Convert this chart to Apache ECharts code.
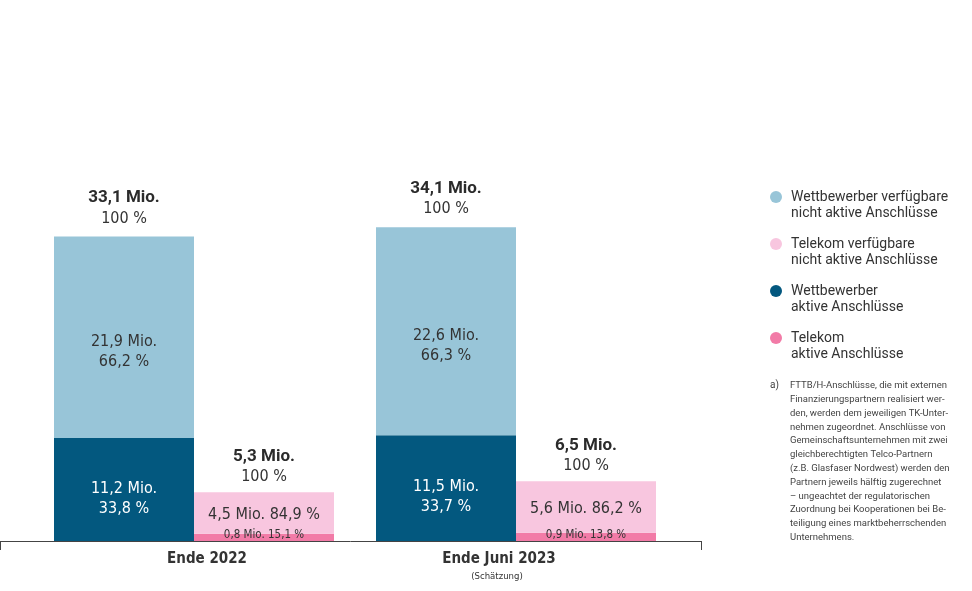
<!DOCTYPE html>
<html>
<head>
<meta charset="utf-8">
<script src="https://cdn.jsdelivr.net/npm/echarts@6/dist/echarts.min.js"></script>
<style>
  html, body { margin: 0; padding: 0; background: #fff; }
  #main { width: 972px; height: 591px; }
</style>
</head>
<body>
<div id="main"></div>
<script>
var categories = ['Ende 2022', 'Ende Juni 2023'];
var wbActive = [11.2, 11.5];
var wbActivePct = ['33,8', '33,7'];
var wbInactive = [21.9, 22.6];
var wbInactivePct = ['66,2', '66,3'];
var wbTotal = [33.1, 34.1];
var tkActive = [0.8, 0.9];
var tkActivePct = ['15,1', '13,8'];
var tkInactive = [4.5, 5.6];
var tkInactivePct = ['84,9', '86,2'];
var tkTotal = [5.3, 6.5];

var legendNames = [
  'Wettbewerber verfügbare\nnicht aktive Anschlüsse',
  'Telekom verfügbare\nnicht aktive Anschlüsse',
  'Wettbewerber\naktive Anschlüsse',
  'Telekom\naktive Anschlüsse'
];
var footnote = [
  'FTTB/H-Anschlüsse, die mit externen',
  'Finanzierungspartnern realisiert wer-',
  'den, werden dem jeweiligen TK-Unter-',
  'nehmen zugeordnet. Anschlüsse von',
  'Gemeinschaftsunternehmen mit zwei',
  'gleichberechtigten Telco-Partnern',
  '(z.B. Glasfaser Nordwest) werden den',
  'Partnern jeweils hälftig zugerechnet',
  '– ungeachtet der regulatorischen',
  'Zuordnung bei Kooperationen bei Be-',
  'teiligung eines marktbeherrschenden',
  'Unternehmens.'
];

var color = { wbIn: '#98c5d8', wbAct: '#03587f', tkIn: '#f8c6df', tkAct: '#f27ba7' };
var narrow = '"Liberation Sans Narrow", "DejaVu Sans Condensed", Roboto, sans-serif';
var plain = 'Roboto, "Liberation Sans", sans-serif';

function de(v) { return String(v).replace('.', ','); }       // 4.5 -> 4,5

var chart = echarts.init(document.getElementById('main'));

var totalLabel = function(totals, dist) {
  return {
    show: true, position: 'top', distance: dist,
    formatter: function(p) { return '{b|' + de(totals[p.dataIndex]) + ' Mio.}\n{n|100 %}'; },
    rich: {
      b: { fontFamily: plain, fontWeight: 'bold', fontSize: 17, color: '#2b2b2b', lineHeight: 21 },
      n: { fontFamily: narrow, fontSize: 16, color: '#333', lineHeight: 20 }
    }
  };
};

chart.setOption({
  animation: false,
  legend: {
    orient: 'vertical', left: 770, top: 173, padding: 0,
    icon: 'circle', itemWidth: 12, itemHeight: 12, itemGap: -1,
    data: [legendNames[0], legendNames[1], legendNames[2], legendNames[3]],
    // empty first line keeps the dot level with the first text line
    formatter: function(name) { return '\n' + name; },
    textStyle: { fontFamily: plain, fontSize: 14, color: '#333', lineHeight: 16, padding: [0, 0, 0, 4] }
  },
  graphic: [
    { type: 'text', left: 770, top: 379, style: { text: 'a)', font: '10px Roboto, sans-serif', fill: '#444', lineHeight: 13.8 } },
    { type: 'text', left: 790, top: 379, style: { text: footnote.join('\n'), font: '9.5px Roboto, sans-serif', fill: '#444', lineHeight: 13.8 } }
  ],
  grid: [
    { left: 33, right: 295, top: 173, bottom: 50 },
    { left: 0, right: 271, top: 173, bottom: 50 }
  ],
  xAxis: [
    {
      type: 'category', data: categories, gridIndex: 0,
      axisLine: { show: false }, axisTick: { show: false },
      axisLabel: {
        margin: 11, color: '#333', fontFamily: narrow, fontSize: 15, fontWeight: 'bold',
        formatter: function(v, i) { return i === 1 ? '{r|' + v + '}\n{s|(Schätzung)}' : '{l|' + v + '}'; },
        rich: {
          l: { fontFamily: narrow, fontSize: 15, fontWeight: 'bold', color: '#333', padding: [0, 0, 0, 26] },
          r: { fontFamily: narrow, fontSize: 15, fontWeight: 'bold', color: '#333', padding: [0, 34, 0, 0] },
          s: { fontFamily: narrow, fontSize: 9.5, fontWeight: 'normal', color: '#333', lineHeight: 20, padding: [0, 38, 0, 0] }
        }
      }
    },
    {
      type: 'value', gridIndex: 1, min: 0, max: 1, interval: 1,
      axisLine: { show: true, lineStyle: { color: '#444', width: 1 } },
      axisTick: { show: true, length: 9, lineStyle: { color: '#444' } },
      axisLabel: { show: false }, splitLine: { show: false }
    }
  ],
  yAxis: [
    { type: 'value', gridIndex: 0, min: 0, max: 40, show: false },
    { type: 'value', gridIndex: 1, min: 0, max: 1, show: false }
  ],
  series: [
    {
      name: legendNames[2], type: 'bar', stack: 'wb', barWidth: 140, barGap: '0%',
      data: wbActive, itemStyle: { color: color.wbAct },
      label: {
        show: true, position: 'inside', offset: [0, 9], color: '#fff', fontFamily: narrow, fontSize: 16, lineHeight: 20,
        formatter: function(p) { return de(p.value) + ' Mio.\n' + wbActivePct[p.dataIndex] + ' %'; }
      }
    },
    {
      name: legendNames[0], type: 'bar', stack: 'wb', barWidth: 140,
      data: wbInactive, itemStyle: { color: color.wbIn },
      label: {
        show: true, position: 'inside', offset: [0, 15], color: '#333', fontFamily: narrow, fontSize: 16, lineHeight: 20,
        formatter: function(p) { return de(p.value) + ' Mio.\n' + wbInactivePct[p.dataIndex] + ' %'; }
      }
    },
    {
      name: 'wbSum', type: 'bar', stack: 'wb', barWidth: 140,
      data: [0, 0], itemStyle: { color: 'rgba(0,0,0,0)' },
      label: totalLabel(wbTotal, 8)
    },
    {
      name: legendNames[3], type: 'bar', stack: 'tk', barWidth: 140,
      data: tkActive, itemStyle: { color: color.tkAct },
      label: {
        show: true, position: 'inside', offset: [0, -2], color: '#333', fontFamily: narrow, fontSize: 11.5,
        formatter: function(p) { return de(p.value) + ' Mio. ' + tkActivePct[p.dataIndex] + ' %'; }
      }
    },
    {
      name: legendNames[1], type: 'bar', stack: 'tk', barWidth: 140,
      data: tkInactive, itemStyle: { color: color.tkIn },
      label: {
        show: true, position: 'inside', offset: [0, 2], color: '#333', fontFamily: narrow, fontSize: 16,
        formatter: function(p) { return de(p.value) + ' Mio. ' + tkInactivePct[p.dataIndex] + ' %'; }
      }
    },
    {
      name: 'tkSum', type: 'bar', stack: 'tk', barWidth: 140,
      data: [0, 0], itemStyle: { color: 'rgba(0,0,0,0)' },
      label: totalLabel(tkTotal, 5)
    }
  ]
});
</script>
</body>
</html>
